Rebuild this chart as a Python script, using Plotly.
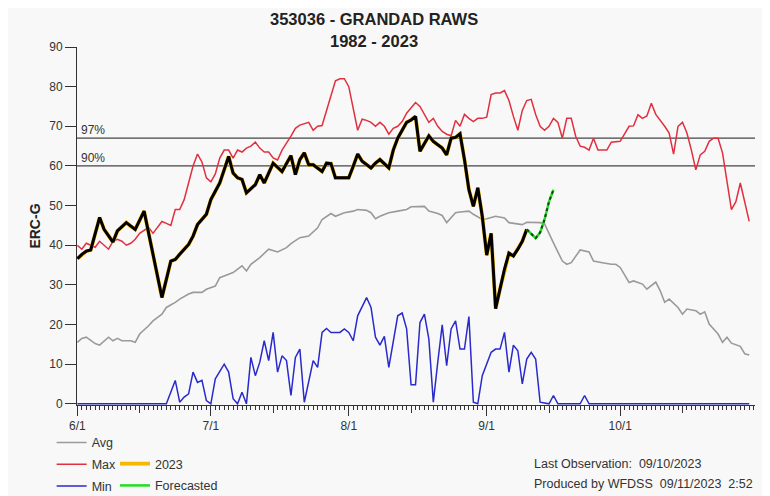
import pandas as pd
import plotly.graph_objects as go

# ---------------- data (day offsets from 6/1, ERC-G values) ----------------
season_start = "2023-06-01"

max_days = [0, 1, 2, 3, 4, 5, 6, 7, 8, 9,
            10, 11, 12, 13, 14, 16, 17, 19, 20, 21,
            22, 23, 24, 25, 26, 27, 28, 29, 30, 31,
            32, 33, 34, 35, 36, 37, 38, 39, 40, 41,
            42, 43, 44, 45, 46, 48, 49, 50, 52, 53,
            54, 55, 56, 57, 58, 59, 60, 61, 62, 63,
            64, 65, 66, 67, 68, 69, 70, 71, 72, 73,
            74, 76, 77, 78, 79, 80, 81, 82, 83, 84,
            85, 86, 87, 88, 89, 90, 91, 92, 93, 94,
            95, 96, 97, 98, 99, 100, 101, 102, 103, 104,
            105, 106, 107, 108, 109, 110, 111, 112, 113, 114,
            115, 116, 117, 119, 120, 122, 123, 124, 125, 126,
            127, 128, 129, 130, 132, 133, 134, 135, 136, 137,
            138, 139, 140, 141, 142, 143, 144, 145, 147, 148,
            149, 151]
max_vals = [40, 39, 40.5, 40, 39.5, 41, 40, 39, 41, 41.5,
            41, 40, 40.5, 41.5, 43, 44.5, 43, 46, 45.5, 45,
            49, 49, 51.5, 55.5, 60, 63, 61, 57, 56, 58,
            62, 64, 64, 62, 64, 63.5, 64.5, 65, 66, 64.5,
            63.5, 63.5, 62, 61.5, 64, 67.5, 69.5, 70.3, 71, 69,
            70, 70.2, 74, 78, 81.5, 82, 82, 80, 74, 69,
            71.8, 71.5, 71, 70, 71, 70, 68, 69.5, 70, 71.2,
            73.3, 76, 75, 73, 71, 72, 70, 68.7, 68, 67.6,
            71.5, 70, 73, 72, 71.2, 72, 72, 72.3, 78, 78.4,
            78.4, 79, 76.5, 72.5, 69, 74, 76.5, 76.8, 73, 70,
            69, 70, 72, 71, 67, 72, 72, 67.5, 65, 64.7,
            64, 67, 64, 64, 66, 66.2, 68, 70, 70.1, 72.9,
            72, 72.6, 75.8, 73, 70, 68.3, 63, 70, 71, 68.3,
            64, 59, 62.8, 63.7, 66.2, 67, 67, 63.3, 49, 51,
            55.7, 46]

avg_days = [0, 1, 2, 4, 5, 7, 8, 9, 10, 12,
            13, 14, 16, 17, 19, 20, 22, 23, 25, 26,
            28, 29, 31, 32, 34, 35, 37, 38, 39, 41,
            43, 45, 47, 48, 50, 52, 54, 55, 57, 58,
            60, 62, 63, 65, 66, 67, 68, 69, 70, 72,
            74, 75, 77, 78, 79, 81, 82, 83, 85, 86,
            88, 89, 91, 92, 94, 96, 97, 100, 101, 104,
            105, 106, 107, 109, 110, 111, 113, 115, 116, 118,
            120, 121, 122, 124, 125, 127, 128, 130, 131, 132,
            133, 135, 136, 137, 139, 140, 141, 142, 144, 145,
            146, 147, 149, 150, 151]
avg_vals = [15.5, 16.5, 16.8, 15.2, 14.8, 16.8, 15.9, 16.5, 15.9, 15.9,
            15.5, 17.6, 19.7, 20.9, 22.6, 24.3, 25.6, 26.4, 27.7, 28.1,
            28.1, 28.9, 29.7, 31.8, 32.7, 33.1, 34.8, 33.5, 35.2, 36.9,
            39, 38.3, 39.4, 40.4, 41.9, 42.3, 44.4, 46.5, 48, 47.3,
            48.2, 48.6, 49, 48.8, 48.2, 46.7, 47.3, 47.7, 48.2, 48.6,
            49, 49.7, 49.8, 49.8, 48.6, 48, 47.5, 45.7, 48.2, 48.4,
            48.6, 47.8, 46.5, 46.7, 47.3, 46.9, 45.7, 45.2, 45.8, 45.7,
            45.4, 43.2, 40.6, 36, 35.2, 35.6, 38.8, 38.3, 36, 35.6,
            35.2, 35.2, 34.4, 30.6, 31, 30.2, 28.9, 30.7, 28.5, 25.6,
            26.4, 24.3, 22.6, 23.9, 23.5, 22.6, 23.2, 20.1, 17.6, 15.5,
            16.8, 15.3, 14.5, 12.6, 12.3]

min_days = [0, 20, 22, 23, 24, 25, 26, 27, 28, 29,
            30, 31, 33, 34, 35, 36, 37, 38, 39, 40,
            41, 42, 43, 44, 45, 46, 47, 48, 49, 50,
            51, 53, 54, 55, 56, 57, 59, 60, 61, 62,
            63, 65, 66, 67, 68, 69, 70, 72, 73, 74,
            75, 76, 77, 78, 79, 80, 81, 82, 83, 84,
            85, 86, 87, 88, 89, 90, 91, 93, 94, 95,
            96, 97, 98, 99, 100, 101, 102, 103, 104, 106,
            107, 108, 113, 114, 115, 151]
min_vals = [0, 0, 5.9, 0.4, 1.7, 2.5, 8, 5.4, 5.9, 0.8,
            0, 6.3, 10, 8, 1.3, 0, 2.9, 0, 11.7, 7.1,
            10.5, 15.9, 10.9, 18, 8, 12.1, 10.9, 2.1, 11.7, 13.8,
            0.4, 10.9, 9.2, 18, 19, 18, 18, 18.9, 18, 15.9,
            22.2, 26.8, 24.3, 16.8, 14.8, 17, 9.2, 22.2, 22.9, 18.9,
            4.8, 4.8, 20.5, 22.6, 16.3, 0.4, 10.5, 19.9, 9.6, 18.9,
            20.9, 13.8, 13.8, 22, 0.4, 0, 7.1, 13, 13.8, 13.8,
            18, 8, 14.8, 13.4, 5, 11.3, 13, 11.3, 0.4, 0,
            2.1, 0, 0, 2.1, 0, 0]

y2023_days = [0, 1, 2, 3, 5, 6, 8, 9, 11, 12,
              13, 15, 19, 21, 22, 23, 25, 26, 27, 29,
              30, 31, 32, 34, 35, 36, 37, 38, 40, 41,
              42, 43, 44, 46, 48, 49, 50, 51, 52, 53,
              55, 56, 57, 58, 61, 62, 63, 64, 66, 67,
              68, 70, 71, 72, 74, 75, 76, 77, 79, 80,
              82, 83, 84, 85, 86, 87, 88, 89, 90, 91,
              92, 93, 94, 95, 96, 97, 98, 99, 100, 101]
y2023_vals = [36.6, 37.7, 38.5, 38.8, 47, 44, 40.8, 43.6, 45.7, 44.8,
              44, 48.6, 26.8, 36, 36.4, 37.7, 40.2, 42.3, 45.2, 47.8,
              51.5, 53.6, 55.7, 62.4, 58.2, 57, 56.6, 53.2, 55.3, 57.8,
              55.7, 58.2, 60.7, 58.6, 62.6, 57.8, 61.6, 63.3, 60.3, 60.3,
              58.6, 60.7, 60.6, 57, 57, 59.9, 63, 61.2, 59.5, 60.7,
              61.6, 59.5, 64, 67, 71, 71.6, 72.5, 63.7, 67.6, 66.2,
              64.5, 62.8, 67, 67.2, 68.1, 61.6, 54, 49.8, 54.5, 47.3,
              37.5, 43, 24, 29, 34, 38, 37.3, 39, 41, 44]

fcst_days = [101, 102, 103, 104, 105, 106, 107]
fcst_vals = [44, 43, 41.8, 43.2, 46.5, 51, 54]

pct97 = 67
pct90 = 60

month_ticks = ["2023-06-01", "2023-07-01", "2023-08-01", "2023-09-01", "2023-10-01"]
month_labels = ["6/1", "7/1", "8/1", "9/1", "10/1"]
mid_ticks = ["2023-06-15", "2023-07-15", "2023-08-15", "2023-09-15", "2023-10-15"]

title_1 = "353036 - GRANDAD RAWS"
title_2 = "1982 - 2023"
last_obs = "Last Observation:&nbsp; 09/10/2023"
produced = "Produced by WFDSS&nbsp; 09/11/2023&nbsp; 2:52"

# ---------------- figure ----------------
t0 = pd.Timestamp(season_start)


def dates(days):
    return [t0 + pd.Timedelta(days=d) for d in days]


FONT = "Liberation Sans, Arial, sans-serif"
TXT = "#333333"

fig = go.Figure()

fig.add_trace(go.Scatter(x=dates(avg_days), y=avg_vals, mode="lines", name="Avg",
                         line=dict(color="#9a9a9a", width=1.6), legend="legend",
                         legendgroup="avg"))
fig.add_trace(go.Scatter(x=dates(max_days), y=max_vals, mode="lines", name="Max",
                         line=dict(color="#e03040", width=1.5), legend="legend",
                         legendgroup="max"))
fig.add_trace(go.Scatter(x=dates(min_days), y=min_vals, mode="lines", name="Min",
                         line=dict(color="#2a2acc", width=1.5), legend="legend",
                         legendgroup="min"))
fig.add_trace(go.Scatter(x=dates(y2023_days), y=y2023_vals, mode="lines", name="2023",
                         line=dict(color="#f5b800", width=3.8), legend="legend2",
                         legendgroup="y2023"))
fig.add_trace(go.Scatter(x=dates(y2023_days), y=y2023_vals, mode="lines", showlegend=False,
                         line=dict(color="#000000", width=3), hoverinfo="skip",
                         legendgroup="y2023"))
fig.add_trace(go.Scatter(x=dates(fcst_days), y=fcst_vals, mode="lines", name="Forecasted",
                         line=dict(color="#22dd22", width=2.5), legend="legend2",
                         legendgroup="fcst"))
fig.add_trace(go.Scatter(x=dates(fcst_days), y=fcst_vals, mode="lines", showlegend=False,
                         line=dict(color="#114411", width=2, dash="dot"), hoverinfo="skip",
                         legendgroup="fcst"))
# carrier for the mid-month tick axis
fig.add_trace(go.Scatter(x=[], y=[], xaxis="x2", showlegend=False, hoverinfo="skip"))

x_end = t0 + pd.Timedelta(days=152.3)
x_range = [t0 - pd.Timedelta(hours=2), x_end]

fig.add_hline(y=pct97, line=dict(color="#444444", width=1.2), layer="below")
fig.add_hline(y=pct90, line=dict(color="#444444", width=1.2), layer="below")

fig.update_layout(
    width=762, height=488,
    margin=dict(l=69, r=15, t=39, b=91, autoexpand=False),
    paper_bgcolor="#f8f8f8", plot_bgcolor="#f8f8f8",
    font=dict(family=FONT, size=12, color=TXT),
    xaxis=dict(type="date", range=x_range, tickmode="array", tickvals=month_ticks,
               ticktext=month_labels, ticks="outside", ticklen=10, tickwidth=1,
               tickcolor="#333", showline=True, linecolor="#333", linewidth=1,
               showgrid=False, zeroline=False, layer="below traces",
               tickfont=dict(size=12, color=TXT),
               minor=dict(tickmode="linear", tick0=season_start, dtick=86400000,
                          ticks="outside", ticklen=4, tickcolor="#333", tickwidth=1,
                          showgrid=False)),
    xaxis2=dict(type="date", range=x_range, overlaying="x", side="bottom",
                tickmode="array", tickvals=mid_ticks, showticklabels=False,
                ticks="outside", ticklen=7, tickcolor="#333", showline=False,
                showgrid=False, zeroline=False),
    yaxis=dict(range=[-0.3, 90], tickmode="array", tickvals=list(range(0, 91, 10)),
               ticks="outside", ticklen=11, tickcolor="#333", showline=True,
               linecolor="#333", linewidth=1, showgrid=False, zeroline=False,
               tickfont=dict(size=12, color=TXT), layer="below traces",
               title=dict(text="<b>ERC-G</b>", font=dict(size=14, color="#222"),
                          standoff=5)),
    legend=dict(x=-0.0374, y=-0.064, xanchor="left", yanchor="top",
                bgcolor="rgba(0,0,0,0)", font=dict(size=12.5, color=TXT),
                traceorder="grouped", tracegroupgap=2.5),
    legend2=dict(x=0.056, y=-0.123, xanchor="left", yanchor="top",
                 bgcolor="rgba(0,0,0,0)", font=dict(size=12.5, color=TXT),
                 traceorder="grouped", tracegroupgap=2.5),
    showlegend=True,
)

fig.add_annotation(xref="paper", yref="y", x=0, y=pct97, text="97%", showarrow=False,
                   xanchor="left", yanchor="bottom", xshift=2, yshift=-1,
                   font=dict(size=12, color=TXT))
fig.add_annotation(xref="paper", yref="y", x=0, y=pct90, text="90%", showarrow=False,
                   xanchor="left", yanchor="bottom", xshift=2, yshift=-1,
                   font=dict(size=12, color=TXT))

fig.add_annotation(xref="paper", yref="paper", x=0.438, y=1.078, text="<b>" + title_1 + "</b>",
                   showarrow=False, xanchor="center", yanchor="middle",
                   font=dict(size=16.5, color="#222"))
fig.add_annotation(xref="paper", yref="paper", x=0.438, y=1.017, text="<b>" + title_2 + "</b>",
                   showarrow=False, xanchor="center", yanchor="middle",
                   font=dict(size=16.5, color="#222"))

fig.add_annotation(xref="paper", yref="paper", x=0.671, y=-0.165, text=last_obs,
                   showarrow=False, xanchor="left", yanchor="middle",
                   font=dict(size=12.5, color=TXT))
fig.add_annotation(xref="paper", yref="paper", x=0.671, y=-0.221, text=produced,
                   showarrow=False, xanchor="left", yanchor="middle",
                   font=dict(size=12.5, color=TXT))

fig.write_html("out.html")
